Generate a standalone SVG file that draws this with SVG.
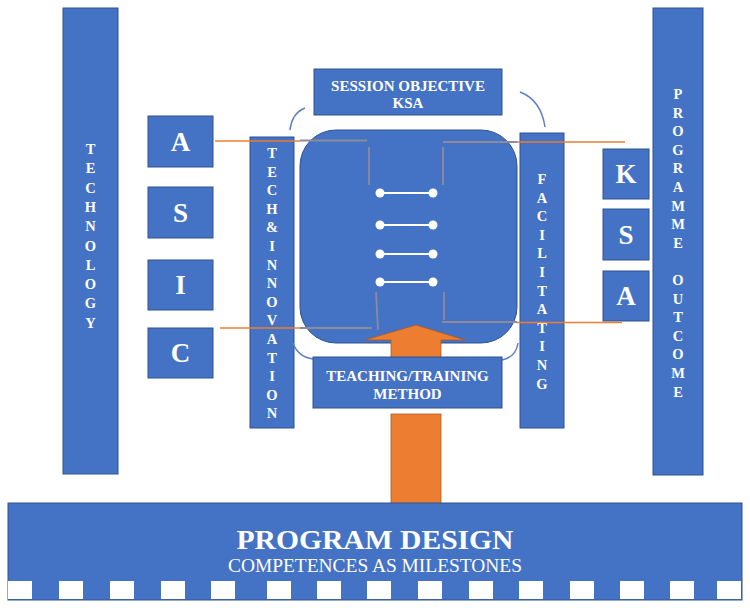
<svg xmlns="http://www.w3.org/2000/svg" width="750" height="608" viewBox="0 0 750 608">
<style>
.box{fill:#4472C4;stroke:#2F528F;stroke-width:1}
.t{fill:#fff;font-family:"Liberation Serif","Times New Roman",serif;font-weight:bold;text-anchor:middle}
.v{font-size:14.5px}
.big{font-size:27px}
.lbl{font-size:15px}
.sub{font-weight:normal;font-size:19px}
.arc{fill:none;stroke:#5B7FC7;stroke-width:1.5}
.or{stroke:#ED7D31;stroke-width:1.5;fill:none}
.gr{stroke:#8E8A9C;stroke-width:1.8;fill:none}
.arrow{fill:#ED7D31;stroke:#AE5A21;stroke-width:0.8}
.dot{fill:#fff}
.rung{stroke:#fff;stroke-width:2}
.sq{fill:#fff}
</style>
<rect width="750" height="608" fill="#fff"/>

<g id="technology">
<rect class="box" x="63" y="8" width="55" height="466"/>
<text class="t v" x="90.5" y="154"><tspan x="90.5" dy="0">T</tspan><tspan x="90.5" dy="19.3">E</tspan><tspan x="90.5" dy="19.3">C</tspan><tspan x="90.5" dy="19.3">H</tspan><tspan x="90.5" dy="19.3">N</tspan><tspan x="90.5" dy="19.3">O</tspan><tspan x="90.5" dy="19.3">L</tspan><tspan x="90.5" dy="19.3">O</tspan><tspan x="90.5" dy="19.3">G</tspan><tspan x="90.5" dy="19.3">Y</tspan></text>
</g>

<g id="programme-outcome">
<rect class="box" x="653" y="8" width="50" height="467"/>
<text class="t v" x="678" y="99"><tspan x="678" dy="0">P</tspan><tspan x="678" dy="18.6">R</tspan><tspan x="678" dy="18.6">O</tspan><tspan x="678" dy="18.6">G</tspan><tspan x="678" dy="18.6">R</tspan><tspan x="678" dy="18.6">A</tspan><tspan x="678" dy="18.6">M</tspan><tspan x="678" dy="18.6">M</tspan><tspan x="678" dy="18.6">E</tspan><tspan x="678" dy="37.2">O</tspan><tspan x="678" dy="18.6">U</tspan><tspan x="678" dy="18.6">T</tspan><tspan x="678" dy="18.6">C</tspan><tspan x="678" dy="18.6">O</tspan><tspan x="678" dy="18.6">M</tspan><tspan x="678" dy="18.6">E</tspan></text>
</g>

<g id="box-A">
<rect class="box" x="148" y="116" width="65" height="51"/>
<text class="t big" x="180.5" y="151">A</text>
</g>
<g id="box-S">
<rect class="box" x="148" y="187" width="65" height="51"/>
<text class="t big" x="180.5" y="222">S</text>
</g>
<g id="box-I">
<rect class="box" x="148" y="260" width="65" height="50"/>
<text class="t big" x="180.5" y="294">I</text>
</g>
<g id="box-C">
<rect class="box" x="148" y="328" width="65" height="50"/>
<text class="t big" x="180.5" y="362">C</text>
</g>

<g id="box-K2">
<rect class="box" x="603" y="149" width="46" height="50"/>
<text class="t big" x="626" y="183">K</text>
</g>
<g id="box-S2">
<rect class="box" x="603" y="209" width="46" height="51"/>
<text class="t big" x="626" y="244">S</text>
</g>
<g id="box-A2">
<rect class="box" x="603" y="271" width="46" height="50"/>
<text class="t big" x="626" y="305">A</text>
</g>

<g id="tech-innovation">
<rect class="box" x="250" y="137" width="44" height="291"/>
<text class="t v" x="272" y="158"><tspan x="272" dy="0">T</tspan><tspan x="272" dy="18.6">E</tspan><tspan x="272" dy="18.6">C</tspan><tspan x="272" dy="18.6">H</tspan><tspan x="272" dy="18.6">&amp;</tspan><tspan x="272" dy="18.6">I</tspan><tspan x="272" dy="18.6">N</tspan><tspan x="272" dy="18.6">N</tspan><tspan x="272" dy="18.6">O</tspan><tspan x="272" dy="18.6">V</tspan><tspan x="272" dy="18.6">A</tspan><tspan x="272" dy="18.6">T</tspan><tspan x="272" dy="18.6">I</tspan><tspan x="272" dy="18.6">O</tspan><tspan x="272" dy="18.6">N</tspan></text>
</g>

<g id="facilitating">
<rect class="box" x="520" y="133" width="44" height="295"/>
<text class="t v" x="542" y="184"><tspan x="542" dy="0">F</tspan><tspan x="542" dy="18.6">A</tspan><tspan x="542" dy="18.6">C</tspan><tspan x="542" dy="18.6">I</tspan><tspan x="542" dy="18.6">L</tspan><tspan x="542" dy="18.6">I</tspan><tspan x="542" dy="18.6">T</tspan><tspan x="542" dy="18.6">A</tspan><tspan x="542" dy="18.6">T</tspan><tspan x="542" dy="18.6">I</tspan><tspan x="542" dy="18.6">N</tspan><tspan x="542" dy="18.6">G</tspan></text>
</g>

<g id="core">
<rect class="box" x="300" y="130" width="217" height="213" rx="36" ry="36"/>
</g>

<g id="session-objective">
<rect class="box" x="314" y="69" width="188" height="46"/>
<text class="t lbl" x="408" y="91">SESSION OBJECTIVE</text>
<text class="t lbl" x="408" y="108">KSA</text>
</g>

<g id="connectors">
<path class="arc" d="M290,130 Q292,113 305,108"/>
<path class="arc" d="M520,92 Q541,100 545,127"/>
<path class="arc" d="M293,343 Q298,357 313,359"/>
<path class="arc" d="M502,360 Q516,357 518,343"/>
<line class="or" x1="215" y1="141" x2="300" y2="141"/>
<line class="gr" x1="300" y1="140.5" x2="367" y2="140.5"/>
<line class="gr" x1="369" y1="147" x2="369" y2="185"/>
<line class="or" x1="517" y1="142" x2="625" y2="142"/>
<line class="gr" x1="443" y1="142" x2="517" y2="142"/>
<line class="gr" x1="443" y1="147" x2="443" y2="185"/>
<line class="or" x1="220" y1="328" x2="300" y2="328"/>
<line class="gr" x1="300" y1="328" x2="372" y2="328"/>
<line class="gr" x1="376" y1="292" x2="378" y2="330"/>
<line class="gr" x1="444" y1="292" x2="444" y2="320"/>
<line class="gr" x1="442" y1="322" x2="517" y2="322"/>
<line class="or" x1="517" y1="322.5" x2="622" y2="322.5"/>
<g id="ladder">
<line class="rung" x1="380" y1="193" x2="433" y2="193"/>
<line class="rung" x1="380" y1="225" x2="433" y2="225"/>
<line class="rung" x1="380" y1="254" x2="433" y2="254"/>
<line class="rung" x1="380" y1="282" x2="433" y2="282"/>
<circle class="dot" cx="380" cy="193" r="4.5"/><circle class="dot" cx="433" cy="193" r="4.5"/>
<circle class="dot" cx="380" cy="225" r="4.5"/><circle class="dot" cx="433" cy="225" r="4.5"/>
<circle class="dot" cx="380" cy="254" r="4.5"/><circle class="dot" cx="433" cy="254" r="4.5"/>
<circle class="dot" cx="380" cy="282" r="4.5"/><circle class="dot" cx="433" cy="282" r="4.5"/>
</g>
<polygon class="arrow" points="416,325 465,340 441,340 441,358 391,358 391,340 365,340"/>
<rect class="arrow" x="391" y="414" width="50" height="90"/>
</g>

<g id="teaching-method">
<rect class="box" x="313" y="357" width="189" height="51"/>
<text class="t lbl" x="407.5" y="381">TEACHING/TRAINING</text>
<text class="t lbl" x="407.5" y="399">METHOD</text>
</g>

<g id="program-design">
<rect class="box" x="8" y="503" width="734" height="97"/>
<text class="t" x="375" y="549" font-size="27" textLength="277" lengthAdjust="spacingAndGlyphs">PROGRAM DESIGN</text>
<text class="t sub" x="375" y="572" textLength="294" lengthAdjust="spacingAndGlyphs">COMPETENCES AS MILESTONES</text>
<g>
<rect class="sq" x="8" y="581" width="24" height="18"/>
<rect class="sq" x="59" y="581" width="24" height="18"/>
<rect class="sq" x="110" y="581" width="24" height="18"/>
<rect class="sq" x="161" y="581" width="24" height="18"/>
<rect class="sq" x="211" y="581" width="24" height="18"/>
<rect class="sq" x="267" y="581" width="24" height="18"/>
<rect class="sq" x="317" y="581" width="24" height="18"/>
<rect class="sq" x="367" y="581" width="24" height="18"/>
<rect class="sq" x="418" y="581" width="24" height="18"/>
<rect class="sq" x="469" y="581" width="24" height="18"/>
<rect class="sq" x="519" y="581" width="24" height="18"/>
<rect class="sq" x="570" y="581" width="24" height="18"/>
<rect class="sq" x="620" y="581" width="24" height="18"/>
<rect class="sq" x="670" y="581" width="24" height="18"/>
<rect class="sq" x="717" y="581" width="24" height="18"/>
</g>
</g>
</svg>
